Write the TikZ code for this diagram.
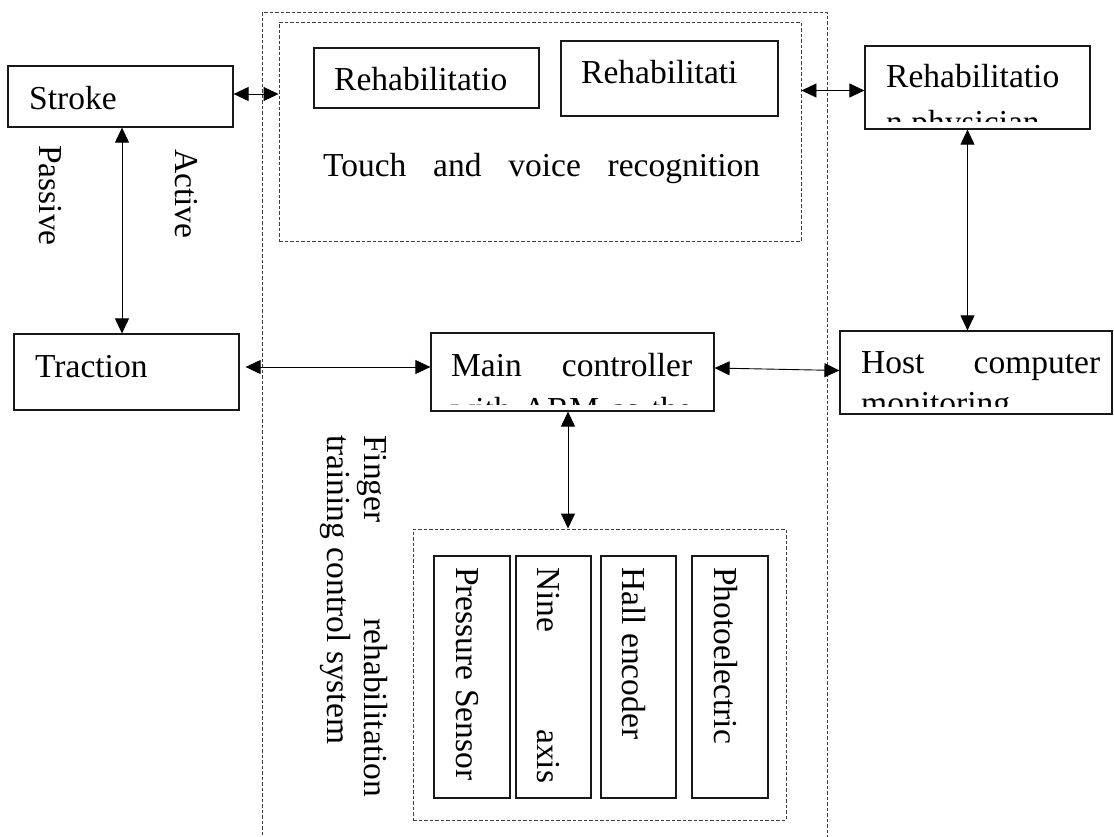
\documentclass[tikz,border=0pt]{standalone}
\usepackage{fontspec}
\setmainfont{Liberation Serif}
\usetikzlibrary{arrows.meta}
\tikzset{
  box/.style={draw=black!90, line width=1.2pt, inner sep=0pt},
  dbox/.style={draw=black!75, line width=0.9pt, dash pattern=on 3.5pt off 2pt, inner sep=0pt},
  txt/.style={inner sep=0pt, anchor=base west, font=\fontsize{33.5}{40}\selectfont},
  vtxt/.style={txt, rotate=-90},
  arr/.style={line width=0.9pt, draw=black, {Triangle[length=15pt,width=14pt]}-{Triangle[length=15pt,width=14pt]}},
}
\begin{document}
\begin{tikzpicture}[x=1pt,y=-1pt]
\useasboundingbox (0,0) rectangle (1114,836);
% outer dashed frame (open at bottom)
\coordinate (oa) at (262,846);
\coordinate (ob) at (262,12);
\coordinate (oc) at (827,12);
\coordinate (od) at (827,846);
\draw[dbox] (oa) -- (ob) -- (oc) -- (od);

% boxes
\node[box, minimum width=225, minimum height=61] (stroke) at (120.5,96.5) {};
\node[box, minimum width=225, minimum height=76] (traction) at (126.5,372) {};
\node[dbox, minimum width=522, minimum height=219] (touch) at (540,131.5) {};
\node[box, minimum width=225, minimum height=60] (reh1) at (426.5,78) {};
\node[box, minimum width=217, minimum height=75] (reh2) at (669.5,78.5) {};
\node[box, minimum width=225, minimum height=83] (phys) at (977.5,87.5) {};
\node[box, minimum width=283, minimum height=78] (main) at (572.5,372) {};
\node[box, minimum width=272, minimum height=83] (host) at (976,372.5) {};
\node[dbox, minimum width=373, minimum height=291] (sensor) at (599.5,674.5) {};
\node[box, minimum width=76, minimum height=242] (press) at (472,677) {};
\node[box, minimum width=75, minimum height=242] (nine) at (553.5,677) {};
\node[box, minimum width=75, minimum height=242] (hall) at (638.5,677) {};
\node[box, minimum width=76, minimum height=242] (photo) at (730,677) {};

% texts
\node[txt] (tstroke) at (29,109) {Stroke};
\node[txt] (ttraction) at (35,377) {Traction};
\node[txt] (treh1) at (334,90) {Rehabilitatio};
\node[txt] (treh2) at (581,83) {Rehabilitati};
\node[txt] (tphys) at (886,87) {Rehabilitatio};
\node[txt] (ttouch) at (323,176) {\makebox[437pt][s]{Touch and voice recognition}};
\node[txt] (tmain) at (451,376) {\makebox[241pt][s]{Main controller}};
\node[txt] (thost) at (861,373) {\makebox[239pt][s]{Host computer}};
\begin{scope}
  \clip (865,46) rectangle (1090,121);
  \node[txt] (tphys2) at (886,133) {n physician};
\end{scope}
\begin{scope}
  \clip (840,331) rectangle (1112,406);
  \node[txt] (thost2) at (861,414) {monitoring};
\end{scope}
\begin{scope}
  \clip (431,333) rectangle (714,404);
  \node[txt] (tmain2) at (451,420) {\makebox[241pt][s]{with ARM as the}};
\end{scope}

\node[vtxt] (tpassive) at (39,145) {Passive};
\node[vtxt] (tactive) at (175,149) {Active};
\node[vtxt] (tfinger) at (364,435) {\makebox[362pt][s]{Finger rehabilitation}};
\node[vtxt] (ttraining) at (327,435) {training control system};
\node[vtxt] (tpress) at (456,567) {Pressure Sensor};
\node[vtxt] (tnine) at (537.5,567) {\makebox[216pt][s]{Nine axis}};
\node[vtxt] (thall) at (622.5,567) {Hall encoder};
\node[vtxt] (tphoto) at (714,567) {Photoelectric};

% connectors
\draw[arr] ([yshift=2.5pt]stroke.east) -- ([yshift=2.5pt]stroke.east -| touch.west);
\draw[arr] ([xshift=1.5pt]stroke.south) -- ([xshift=1.5pt]stroke.south |- traction.north);
\draw[arr] ([shift={(6,-5)}]traction.east) -- ([yshift=5pt]main.west);
\draw[arr] ([yshift=4pt]main.east) -- ([yshift=2pt]host.west);
\draw[arr] ([yshift=-3pt]phys.west -| touch.east) -- ([yshift=-3pt]phys.west);
\draw[arr] ([xshift=-10pt]phys.south) -- ([xshift=-10pt]phys.south |- host.north);
\draw[arr] ([xshift=-4.5pt]main.south) -- ([xshift=-4.5pt]main.south |- sensor.north);
\end{tikzpicture}
\end{document}
